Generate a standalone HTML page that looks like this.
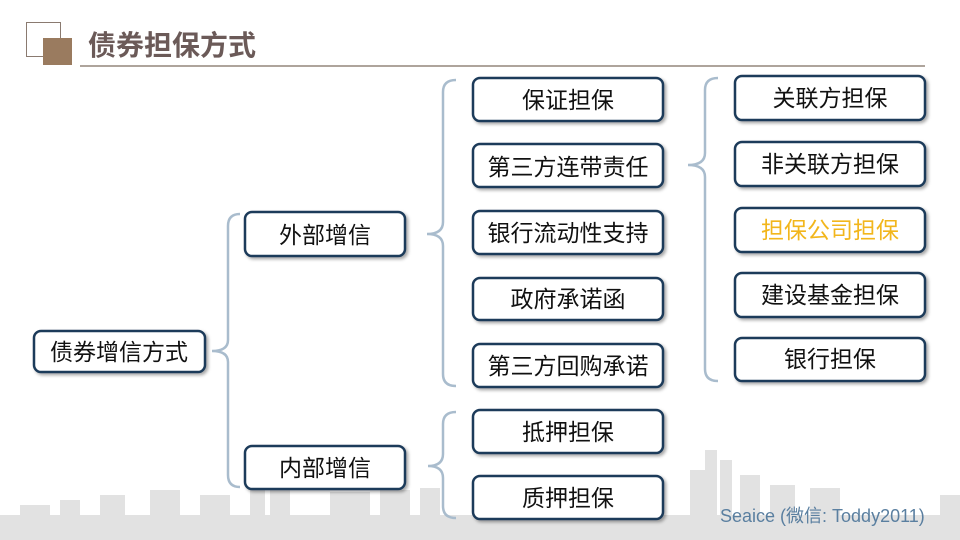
<!DOCTYPE html>
<html><head><meta charset="utf-8"><style>
body{margin:0;background:#fff;}
svg{display:block;}
text{font-family:"Liberation Sans","Noto Sans CJK SC",sans-serif;}
</style></head><body>
<svg width="960" height="540" viewBox="0 0 960 540" xmlns="http://www.w3.org/2000/svg">
<defs>
<filter id="sh" x="-10%" y="-20%" width="130%" height="150%"><feDropShadow dx="2" dy="2" stdDeviation="1.5" flood-color="#000" flood-opacity="0.35"/></filter>
</defs>
<!-- skyline -->
<g fill="#e2e2e2">
<rect x="0" y="515" width="960" height="25"/>
<rect x="20" y="505" width="30" height="15"/><rect x="60" y="500" width="20" height="20"/><rect x="100" y="495" width="25" height="25"/>
<rect x="150" y="490" width="30" height="30"/><rect x="200" y="495" width="30" height="25"/>
<rect x="250" y="485" width="15" height="35"/><rect x="270" y="480" width="20" height="40"/>
<rect x="330" y="492" width="40" height="28"/><rect x="380" y="490" width="30" height="30"/><rect x="420" y="488" width="20" height="32"/>
<rect x="690" y="470" width="15" height="50"/><rect x="705" y="450" width="12" height="70"/><rect x="720" y="460" width="12" height="60"/>
<rect x="740" y="475" width="20" height="45"/><rect x="770" y="485" width="25" height="35"/><rect x="810" y="488" width="30" height="32"/>
<rect x="940" y="495" width="20" height="25"/>
</g>
<!-- header -->
<rect x="26.5" y="22.5" width="34" height="34" fill="#fff" stroke="#8a7a70" stroke-width="1"/>
<rect x="43" y="38" width="29" height="27" fill="#9a7b5f"/>
<text x="88" y="55" font-size="28" font-weight="bold" fill="#6b5a58">债券担保方式</text>
<line x1="80" y1="66" x2="925" y2="66" stroke="#7d6e62" stroke-width="1.2"/>
<!-- braces -->
<g fill="none" stroke="#a9bccd" stroke-width="2.5">
<path d="M240 214 Q228 214 228 226 L228 340 Q228 351 212 351 Q228 351 228 362 L228 475 Q228 487 240 487"/>
<path d="M456 80 Q443 80 443 92 L443 222 Q443 234 427 234 Q443 234 443 246 L443 374 Q443 386 456 386"/>
<path d="M456 412 Q443 412 443 424 L443 454 Q443 466 428 466 Q443 466 443 478 L443 506 Q443 518 456 518"/>
<path d="M718 78 Q705 78 705 90 L705 153 Q705 165 688 165 Q705 165 705 177 L705 369 Q705 381 718 381"/>
</g>
<!-- boxes -->
<g fill="#fff" stroke="#1f3b5a" stroke-width="2.5" filter="url(#sh)">
<rect x="34" y="331" width="171" height="41" rx="7"/>
<rect x="245" y="212" width="160" height="44" rx="7"/>
<rect x="245" y="446" width="160" height="43" rx="7"/>
<rect x="473" y="78" width="190" height="43" rx="7"/>
<rect x="473" y="144" width="190" height="43" rx="7"/>
<rect x="473" y="211" width="190" height="43" rx="7"/>
<rect x="473" y="278" width="190" height="42" rx="7"/>
<rect x="473" y="344" width="190" height="43" rx="7"/>
<rect x="473" y="410" width="190" height="43" rx="7"/>
<rect x="473" y="476" width="190" height="43" rx="7"/>
<rect x="735" y="76" width="190" height="44" rx="7"/>
<rect x="735" y="142" width="190" height="44" rx="7"/>
<rect x="735" y="208" width="190" height="44" rx="7"/>
<rect x="735" y="273" width="190" height="44" rx="7"/>
<rect x="735" y="338" width="190" height="43" rx="7"/>
</g>
<g font-size="23" fill="#111" text-anchor="middle">
<text x="119" y="360">债券增信方式</text>
<text x="325" y="243">外部增信</text>
<text x="325" y="476">内部增信</text>
<text x="568" y="108">保证担保</text>
<text x="568" y="175">第三方连带责任</text>
<text x="568" y="241">银行流动性支持</text>
<text x="568" y="307">政府承诺函</text>
<text x="568" y="374">第三方回购承诺</text>
<text x="568" y="440">抵押担保</text>
<text x="568" y="506">质押担保</text>
<text x="830" y="106">关联方担保</text>
<text x="830" y="172">非关联方担保</text>
<text x="830" y="238" fill="#f2b61c">担保公司担保</text>
<text x="830" y="303">建设基金担保</text>
<text x="830" y="367">银行担保</text>
</g>
<text x="720" y="522" font-size="18" fill="#5a7fa0">Seaice (微信: Toddy2011)</text>
</svg>
</body></html>
